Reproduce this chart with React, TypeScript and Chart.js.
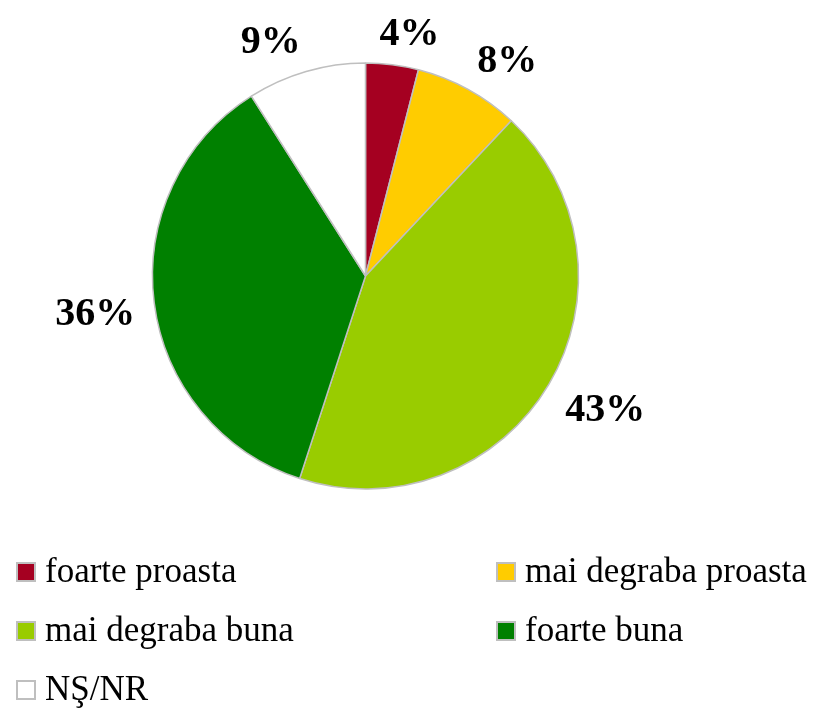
import React, { useEffect, useRef } from "react";
import { Chart, registerables } from "chart.js";

Chart.register(...registerables);

const categories = ["foarte proasta", "mai degraba proasta", "mai degraba buna", "foarte buna", "NŞ/NR"];
const values = [4, 8, 43, 36, 9];
const colors = ["#a50021", "#ffcc00", "#99cc00", "#008000", "#ffffff"];

const soft = (t: number) => Math.sign(t) * Math.min(1, Math.abs(t) * 4);

const pctLabelPlugin = {
  id: "pctLabels",
  afterDatasetsDraw(chart: any) {
    const ctx = chart.ctx;
    const meta = chart.getDatasetMeta(0);
    const data = chart.data.datasets[0].data;
    ctx.save();
    ctx.font = "bold 40px 'Liberation Serif'";
    ctx.fillStyle = "#000000";
    ctx.textAlign = "center";
    ctx.textBaseline = "middle";
    meta.data.forEach((arc: any, i: number) => {
      const p = arc.getProps(["x", "y", "startAngle", "endAngle", "outerRadius"], true);
      const a = (p.startAngle + p.endAngle) / 2;
      const txt = data[i] + "%";
      const w = ctx.measureText(txt).width;
      const h = 28;
      const r = p.outerRadius + 19;
      const px = p.x + Math.cos(a) * r;
      const py = p.y + Math.sin(a) * r;
      const x = px + (soft(Math.cos(a)) * w) / 2;
      const y = py + (soft(Math.sin(a)) * h) / 2 + 3;
      ctx.fillText(txt, x, y);
    });
    ctx.restore();
  },
};

const legendPlugin = {
  id: "gridLegend",
  afterDraw(chart: any) {
    const ctx = chart.ctx;
    const labels = chart.data.labels;
    const bg = chart.data.datasets[0].backgroundColor;
    const colX = [16, 496];
    const firstBaseline = 582;
    const rowGap = 59;
    ctx.save();
    ctx.font = "35px 'Liberation Serif'";
    ctx.textAlign = "left";
    ctx.textBaseline = "alphabetic";
    labels.forEach((lab: string, i: number) => {
      const col = i % 2;
      const row = Math.floor(i / 2);
      const x = colX[col];
      const base = firstBaseline + row * rowGap;
      ctx.fillStyle = bg[i];
      ctx.fillRect(x + 1, base - 19, 18, 18);
      ctx.strokeStyle = "#bfbfbf";
      ctx.lineWidth = 2;
      ctx.strokeRect(x + 1, base - 19, 18, 18);
      ctx.fillStyle = "#000000";
      ctx.fillText(lab, x + 29, base);
    });
    ctx.restore();
  },
};

export default function App() {
  const ref = useRef<HTMLCanvasElement | null>(null);
  useEffect(() => {
    document.body.style.margin = "0";
    const canvas = ref.current;
    if (!canvas) return;
    const chart = new Chart(canvas, {
      type: "pie",
      data: {
        labels: categories,
        datasets: [
          {
            data: values,
            backgroundColor: colors,
            borderColor: "#bfbfbf",
            borderWidth: 1.5,
            radius: 213,
          } as any,
        ],
      },
      options: {
        responsive: false,
        animation: false,
        devicePixelRatio: 1,
        layout: { padding: { left: 70, right: 152, top: 50, bottom: 208 } },
        plugins: {
          legend: { display: false },
          tooltip: { enabled: false },
        },
      },
      plugins: [pctLabelPlugin, legendPlugin],
    });
    return () => chart.destroy();
  }, []);
  return (
    <div style={{ width: 813, height: 710, background: "#ffffff" }}>
      <canvas ref={ref} width={813} height={710} style={{ display: "block" }} />
    </div>
  );
}
